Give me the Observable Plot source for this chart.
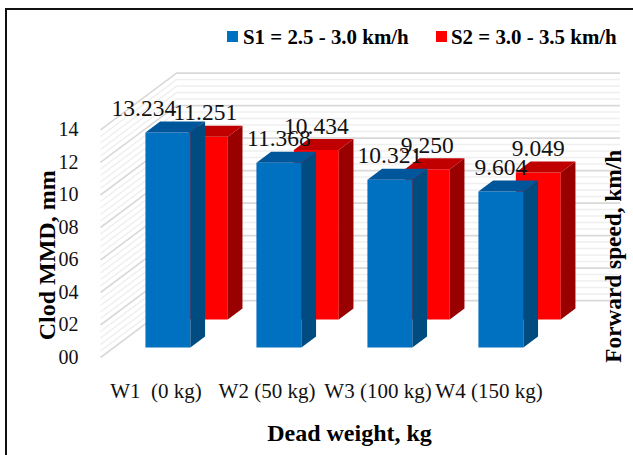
<!DOCTYPE html>
<html>
<head>
<meta charset="utf-8">
<script src="https://cdn.jsdelivr.net/npm/d3@7"></script>
<script src="https://cdn.jsdelivr.net/npm/@observablehq/plot@0.6"></script>
<style>
html,body{margin:0;padding:0;background:#fff;overflow:hidden}
#page{position:relative;width:633px;height:455px;overflow:hidden;font-family:"Liberation Serif",serif;color:#000}
#frame{position:absolute;left:5px;top:8px;right:-5px;bottom:-5px;border-left:2.5px solid #111;border-top:2px solid #111}
#legend{position:absolute;top:25px;left:0;height:24px;width:633px;font-weight:bold;font-size:20.9px;line-height:24px}
#legend span{position:absolute;top:0;white-space:nowrap}
#legend i{position:absolute;top:6px;width:11px;height:11px}
#chart{position:absolute;top:50px;left:0}
#chart svg{display:block}
</style>
</head>
<body>
<div id="page">
  <div id="frame"></div>
  <div id="legend"></div>
  <div id="chart"></div>
</div>
<script>
const categories = ["W1\u00a0\u00a0(0 kg)", "W2 (50 kg)", "W3 (100 kg)", "W4 (150 kg)"];
const s1 = [13.234, 11.368, 10.321, 9.604];
const s2 = [11.251, 10.434, 9.250, 9.049];
const seriesNames = ["S1 = 2.5 - 3.0 km/h", "S2 = 3.0 - 3.5 km/h"];
const yTicks = [0, 2, 4, 6, 8, 10, 12, 14];
const minorTicks = d3.range(0, 14.01, 0.4).filter(v => Math.abs(v / 2 - Math.round(v / 2)) > 1e-6);

// oblique 3D: depth 0 (front of floor) .. 1 (back wall)
const skewX = 0.685, skewY = 3.5;
const px = (slot, depth) => slot + depth * skewX;
const py = (value, depth) => value + depth * skewY;
const slotOffset = 0.285, barWidth = 0.405;
const blue = {d0: 0.175, d1: 0.368, front: "#0070C0", side: "#004C80", top: "#00569A"};
const red  = {d0: 0.667, d1: 0.860, front: "#FF0000", side: "#990000", top: "#C00000"};

function bar(i, v, st, key) {
  const a = i + slotOffset, b = a + barWidth, {d0, d1} = st;
  const poly = (name, color, pts) => pts.map(([s, val, d]) => ({id: key + i + name, color, x: px(s, d), y: py(val, d)}));
  return [
    ...poly("front", st.front, [[a,0,d0],[b,0,d0],[b,v,d0],[a,v,d0]]),
    ...poly("side", st.side, [[b,0,d0],[b,0,d1],[b,v,d1],[b,v,d0]]),
    ...poly("top", st.top, [[a,v,d0],[b,v,d0],[b,v,d1],[a,v,d1]])
  ];
}
const faces = [
  ...s2.flatMap((v, i) => bar(i, v, red, "r")),
  ...s1.flatMap((v, i) => bar(i, v, blue, "b"))
];
const labelAt = (v, i, st) => ({x: px(i + slotOffset + barWidth / 2, st.d0), y: py(v, st.d0), text: v.toFixed(3)});
const labelsS1 = s1.map((v, i) => labelAt(v, i, blue));
const labelsS2 = s2.map((v, i) => labelAt(v, i, red));

const wall = (ticks, stroke, strokeWidth) => [
  Plot.link(ticks, {x1: px(0, 0), x2: px(0, 1), y1: v => py(v, 0), y2: v => py(v, 1), stroke, strokeWidth}),
  Plot.ruleY(ticks, {x1: px(0, 1), x2: px(4, 1), y: v => py(v, 1), stroke, strokeWidth})
];

const labelStyle = {x: "x", y: "y", text: "text", fontSize: 23.5, fill: "#111", dy: -24};
const titleStyle = {textAnchor: "middle", fontWeight: "bold", fill: "#000"};
const chart = Plot.plot({
  width: 633, height: 405,
  marginLeft: 100, marginRight: 13, marginTop: 22.6, marginBottom: 98,
  style: {fontFamily: '"Liberation Serif", serif', background: "transparent", color: "#111", overflow: "visible"},
  x: {domain: [0, 4 + skewX], axis: null},
  y: {domain: [0, 14 + skewY], axis: null},
  marks: [
    ...wall(minorTicks, "#efefef", 1.5),
    ...wall(yTicks, "#d9d9d9", 1.6),
    Plot.line(faces, {x: "x", y: "y", z: "id", fill: "color", stroke: "none"}),
    Plot.text(labelsS1.slice(1), labelStyle),
    Plot.text(labelsS1.slice(0, 1), {...labelStyle, dx: -24}),
    Plot.text(labelsS2, labelStyle),
    Plot.axisY(yTicks, {anchor: "left", tickSize: 0, tickPadding: 22, label: null, fontSize: 20,
      tickFormat: d => String(d).padStart(2, "0")}),
    Plot.axisX([0.5, 1.5, 2.5, 3.5], {anchor: "bottom", tickSize: 0, tickPadding: 26, label: null, fontSize: 21,
      tickFormat: d => categories[Math.floor(d)]}),
    Plot.text(["Clod MMD, mm"], {...titleStyle, frameAnchor: "left", rotate: -90, dx: -53, dy: 40, fontSize: 24}),
    Plot.text(["Forward speed, km/h"], {...titleStyle, frameAnchor: "right", rotate: -90, dx: -7, dy: 41, fontSize: 23.3}),
    Plot.text(["Dead weight, kg"], {...titleStyle, frameAnchor: "bottom", dx: -11, dy: 83, fontSize: 24})
  ]
});
document.getElementById("chart").append(chart);

const legend = document.getElementById("legend");
[[227, 243, blue.front], [436, 451, red.front]].forEach(([sw, tx, color], i) => {
  const box = document.createElement("i");
  box.style.left = sw + "px"; box.style.background = color;
  const label = document.createElement("span");
  label.style.left = tx + "px"; label.textContent = seriesNames[i];
  legend.append(box, label);
});
</script>
</body>
</html>
